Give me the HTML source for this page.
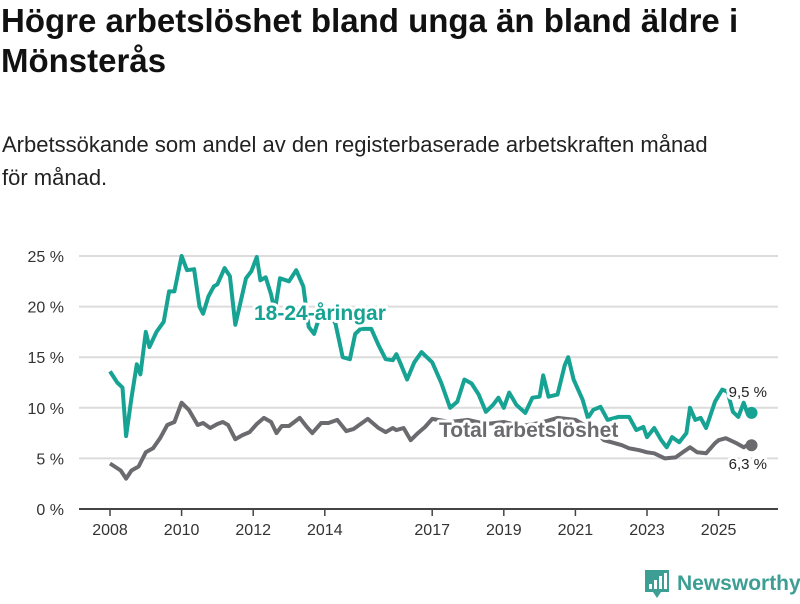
<!DOCTYPE html>
<html><head><meta charset="utf-8"><style>
body{margin:0;width:800px;height:600px;background:#fff;font-family:"Liberation Sans","DejaVu Sans",sans-serif;overflow:hidden;position:relative;color:#111}
h1{position:absolute;left:1px;top:1px;margin:0;font-size:33px;line-height:40px;font-weight:bold;width:800px}
p{position:absolute;left:2px;top:128px;margin:0;font-size:22px;line-height:33px;color:#222;width:720px}
svg{position:absolute;left:0;top:0}
</style></head><body>
<h1>Högre arbetslöshet bland unga än bland äldre i Mönsterås</h1>
<p>Arbetssökande som andel av den registerbaserade arbetskraften månad för månad.</p>
<svg id="chart" width="800" height="600"></svg>
<script>
const youthT=[2008.0,2008.2,2008.35,2008.45,2008.6,2008.75,2008.85,2009.0,2009.1,2009.3,2009.5,2009.65,2009.8,2010.0,2010.15,2010.35,2010.5,2010.6,2010.75,2010.9,2011.0,2011.2,2011.35,2011.5,2011.65,2011.8,2011.95,2012.1,2012.2,2012.35,2012.5,2012.6,2012.75,2013.0,2013.2,2013.4,2013.55,2013.7,2013.85,2014.1,2014.3,2014.5,2014.7,2014.85,2015.0,2015.3,2015.5,2015.7,2015.9,2016.0,2016.1,2016.3,2016.5,2016.7,2017.0,2017.25,2017.5,2017.7,2017.9,2018.1,2018.3,2018.5,2018.7,2018.85,2019.0,2019.15,2019.35,2019.6,2019.8,2020.0,2020.1,2020.25,2020.5,2020.7,2020.8,2020.95,2021.2,2021.35,2021.5,2021.7,2021.9,2022.2,2022.5,2022.7,2022.9,2023.0,2023.2,2023.4,2023.55,2023.7,2023.9,2024.1,2024.2,2024.35,2024.5,2024.65,2024.9,2025.1,2025.25,2025.4,2025.55,2025.7,2025.8];
const youthV=[13.6,12.5,12,7.2,11,14.3,13.3,17.5,16,17.5,18.5,21.5,21.5,25,23.6,23.7,20,19.3,21,22,22.2,23.8,23,18.2,20.5,22.8,23.5,24.9,22.6,22.9,21.2,19.5,22.8,22.5,23.6,22,18,17.3,19,19.5,18.3,15,14.8,17.3,17.8,17.8,16.2,14.8,14.7,15.3,14.5,12.8,14.5,15.5,14.5,12.5,10,10.6,12.8,12.4,11.3,9.6,10.3,11,10,11.5,10.3,9.5,11,11.1,13.2,11.1,11.3,14.2,15,12.8,10.8,9,9.8,10.1,8.8,9.1,9.1,7.8,8.1,7.1,8,6.8,6.1,7.1,6.6,7.5,10,8.8,9,8,10.6,11.8,11.6,9.6,9.1,10.5,9.5];
const totalT=[2008.0,2008.3,2008.45,2008.6,2008.8,2009.0,2009.2,2009.4,2009.6,2009.8,2010.0,2010.2,2010.45,2010.6,2010.8,2011.0,2011.15,2011.3,2011.5,2011.7,2011.9,2012.1,2012.3,2012.5,2012.65,2012.8,2013.0,2013.3,2013.5,2013.65,2013.9,2014.1,2014.35,2014.6,2014.8,2015.0,2015.2,2015.5,2015.7,2015.9,2016.0,2016.2,2016.4,2016.6,2016.8,2017.0,2017.5,2018.0,2018.5,2019.0,2019.5,2020.0,2020.5,2021.0,2021.5,2021.8,2022.0,2022.3,2022.5,2022.8,2023.0,2023.2,2023.5,2023.8,2024.0,2024.2,2024.4,2024.65,2024.9,2025.0,2025.2,2025.5,2025.7,2025.8];
const totalV=[4.5,3.8,3.0,3.8,4.2,5.6,6.0,7.0,8.3,8.6,10.5,9.8,8.3,8.5,8.0,8.4,8.6,8.3,6.9,7.3,7.6,8.4,9.0,8.6,7.5,8.2,8.2,9.0,8.1,7.5,8.5,8.5,8.8,7.7,7.9,8.4,8.9,8.0,7.6,8.0,7.8,8.0,6.8,7.5,8.1,8.9,8.6,8.8,8.4,8.6,8.2,8.5,9.0,8.8,7.8,6.8,6.6,6.3,6.0,5.8,5.6,5.5,5.0,5.1,5.6,6.1,5.6,5.5,6.5,6.8,7.0,6.5,6.1,6.3];
const yTicks=[0,5,10,15,20,25];
const xTicks=[2008,2010,2012,2014,2017,2019,2021,2023,2025];
const endT=2025.92;
const endYouth=9.5, endTotal=6.3;
const ns="http://www.w3.org/2000/svg",svg=document.getElementById('chart');
const X=t=>110+(t-2008)*35.8, Y=v=>509-v*10.12;
function el(tag,a,p){const e=document.createElementNS(ns,tag);for(const k in a)e.setAttribute(k,a[k]);(p||svg).appendChild(e);return e;}
yTicks.forEach(v=>{
 const l=el('line',{x1:79,x2:778,y1:Y(v),y2:Y(v),stroke:v?'#dcdcdc':'#444','stroke-width':2});
 
 
 const t=el('text',{x:64,y:Y(v)+6,'text-anchor':'end','font-size':16,fill:'#333'});t.textContent=v+' %';
 
 
});
xTicks.forEach(v=>{
 const l=el('line',{x1:X(v),x2:X(v),y1:509,y2:516,stroke:'#444','stroke-width':1.5});
 
 
 const t=el('text',{x:X(v),y:535,'text-anchor':'middle','font-size':16,fill:'#333'});t.textContent=v;
 
 
});
function line(T,V,c,name){
 const d=T.map((t,i)=>(i?'L':'M')+X(t).toFixed(1)+','+Y(V[i]).toFixed(1)).join('');
 const p=el('path',{d:d,fill:'none',stroke:c,'stroke-width':4,'stroke-linejoin':'round'});
 
 
}
line(totalT,totalV,'#6b6a6e','total-line');
line(youthT,youthV,'#16a393','youth-line');
const d1=el('circle',{cx:X(endT),cy:Y(endYouth),r:6,fill:'#16a393'});


const d2=el('circle',{cx:X(endT),cy:Y(endTotal),r:6,fill:'#6b6a6e'});


function lab(x,y,txt,c,sz,w,name,anchor){
 const t=el('text',{x:x,y:y,'font-size':sz,'font-weight':w,fill:c,stroke:'#fff','stroke-width':6,'paint-order':'stroke','stroke-linejoin':'round','text-anchor':anchor||'start'});
 t.textContent=txt;
 
 
}
lab(254,320,'18-24-åringar','#16a393',21,'bold','youth-series-label');
lab(439,437,'Total arbetslöshet','#6b6a6e',21,'bold','total-series-label');
lab(767,397,'9,5 %','#222',15,'normal','youth-end-value','end');
lab(767,469,'6,3 %','#222',15,'normal','total-end-value','end');
</script>
<svg width="160" height="40" style="left:643px;top:564px">
<path d="M2 6h24v22h-8l-4 6-4-6H2z" fill="#3d9e94"/>
<rect x="6" y="20" width="3" height="5" fill="#fff"/><rect x="11" y="16" width="3" height="9" fill="#fff"/><rect x="16" y="12" width="3" height="13" fill="#fff"/><rect x="21" y="9" width="3" height="16" fill="#fff"/>
<text x="34" y="26" font-size="21" font-weight="bold" fill="#3d9e94" font-family="Liberation Sans,sans-serif">Newsworthy</text>
</svg>
</body></html>
